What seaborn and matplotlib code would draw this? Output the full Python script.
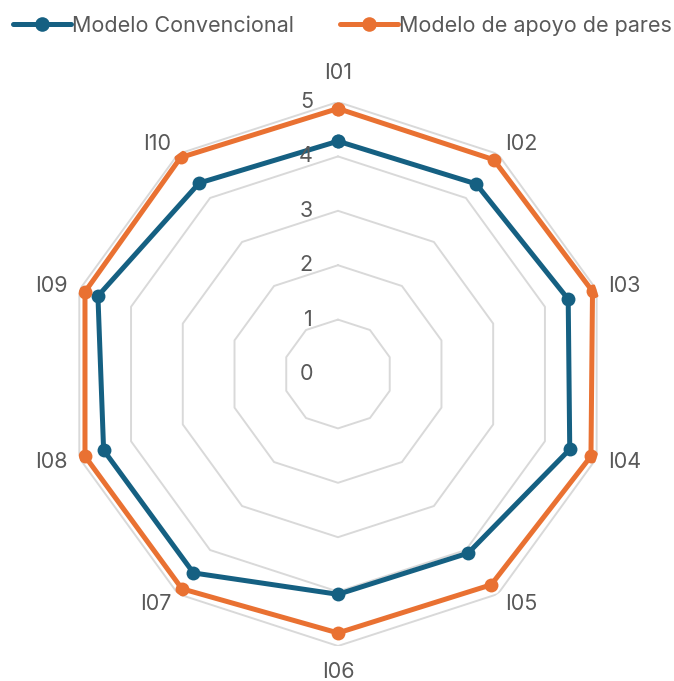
import numpy as np
import pandas as pd
import matplotlib
matplotlib.use("Agg")
import matplotlib.pyplot as plt
from matplotlib.lines import Line2D
import seaborn as sns

# Item labels and mean scores for each model
items = ["I01", "I02", "I03", "I04", "I05", "I06", "I07", "I08", "I09", "I10"]
convencional = [4.28, 4.32, 4.45, 4.48, 4.07, 4.05, 4.52, 4.53, 4.64, 4.34]
pares = [4.88, 4.87, 4.92, 4.89, 4.79, 4.76, 4.88, 4.89, 4.89, 4.92]
series_names = ["Modelo Convencional", "Modelo de apoyo de pares"]
r_ticks = [0, 1, 2, 3, 4, 5]

BLUE = "#156082"
ORANGE = "#E97132"
GRID = "#D9D9D9"
TEXT = "#595959"

sns.set_theme(style="white")
plt.rcParams["font.family"] = ["Inter", "DejaVu Sans"]

n = len(items)
angles = np.linspace(0, 2 * np.pi, n, endpoint=False)
closed = np.append(angles, angles[0])

rows = []
for name, vals in zip(series_names, [convencional, pares]):
    v = list(vals) + [vals[0]]
    for i, (t, r) in enumerate(zip(closed, v)):
        rows.append({"modelo": name, "theta": t, "valor": r, "orden": i})
df = pd.DataFrame(rows)

fig = plt.figure(figsize=(6.74, 6.81), dpi=100)
fig.patch.set_facecolor("white")
ax = fig.add_axes([0.0979, 0.0514, 0.8071, 0.7988], projection="polar")
ax.set_theta_zero_location("N")
ax.set_theta_direction(-1)
ax.set_ylim(0, 5)
ax.grid(False)
ax.spines["polar"].set_visible(False)
ax.set_xticks([])
ax.set_yticks([])
ax.set_facecolor("white")

# Decagonal gridlines
for r in r_ticks[1:]:
    ax.plot(closed, [r] * len(closed), color=GRID, lw=1.4, zorder=1)

palette = {series_names[0]: BLUE, series_names[1]: ORANGE}
sns.lineplot(data=df, x="theta", y="valor", hue="modelo", palette=palette,
             sort=False, estimator=None, units="modelo", ax=ax,
             marker="o", markersize=10, markeredgewidth=0,
             linewidth=3.6, legend=False, zorder=3)
ax.set_xlabel("")
ax.set_ylabel("")

FS = 15.5

# Radial value labels along the top spoke
for r in r_ticks:
    ax.annotate(str(r), xy=(0, r), xytext=(-25, 0), textcoords="offset pixels",
                ha="right", va="center", fontsize=FS, color=TEXT)

# Category labels around the outside
for t, lab in zip(angles, items):
    s, c = np.sin(t), np.cos(t)
    if abs(s) < 0.1:
        ha = "center"
        va = "bottom" if c > 0 else "top"
        off = (0, 19 if c > 0 else -16)
    else:
        ha = "left" if s > 0 else "right"
        va = "center"
        off = (12 * s, 12 * c)
    ax.annotate(lab, xy=(t, 5), xytext=off, textcoords="offset pixels",
                ha=ha, va=va, fontsize=FS, color=TEXT)

handles = [Line2D([], [], color=palette[nm], lw=3.6, marker="o", markersize=10.5,
                  markeredgewidth=0) for nm in series_names]
fig.legend(handles, series_names, loc="center", bbox_to_anchor=(0.508, 0.962),
           ncol=2, frameon=False, fontsize=FS, handlelength=2.7,
           handletextpad=0.05, columnspacing=2.1, labelcolor=TEXT)

fig.savefig("out.png", dpi=100, facecolor="white")
